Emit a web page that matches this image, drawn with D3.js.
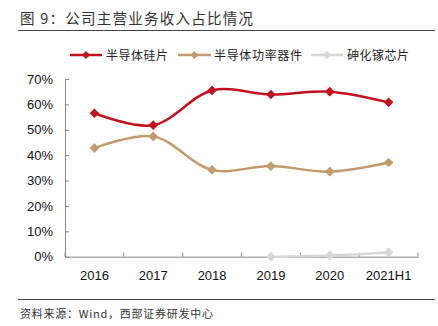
<!DOCTYPE html>
<html><head><meta charset="utf-8">
<script src="https://cdn.jsdelivr.net/npm/d3@7"></script>
<style>body{margin:0;background:#fff}svg{display:block}</style>
</head><body>
<svg id="c" width="438" height="326"></svg>
<script>
const categories = ["2016","2017","2018","2019","2020","2021H1"];
const seriesNames = ["半导体硅片","半导体功率器件","砷化镓芯片"];
const siliconWafer = [56.5, 51.8, 65.5, 63.9, 65.0, 60.8];
const powerDevices = [42.8, 47.4, 34.2, 35.7, 33.5, 37.1];
const gaas = [null, null, null, 0.0, 0.5, 1.7];
const yTicks = [0,10,20,30,40,50,60,70];
const colors = ["#C3121F","#C19B6C","#D7D7D7"];

(function(){
const svg = d3.select("#c");
const pL = 65, pR = 418, pT = 79, pB = 256.7;
const x = d3.scaleBand().domain(categories).range([pL, pR]);
const y = d3.scaleLinear().domain([0,70]).range([pB, pT]);

// title
svg.append("text").attr("x",20).attr("y",24).attr("font-family","Noto Sans CJK SC").attr("font-size",14.5)
  .attr("fill","#333").attr("textLength",233).attr("lengthAdjust","spacing").text("图 9：公司主营业务收入占比情况");
svg.append("line").attr("x1",18).attr("x2",435).attr("y1",30.5).attr("y2",30.5).attr("stroke","#444").attr("stroke-width",1);
svg.append("line").attr("x1",18).attr("x2",435).attr("y1",299.5).attr("y2",299.5).attr("stroke","#444").attr("stroke-width",1);
svg.append("text").attr("x",20).attr("y",318).attr("font-family","Noto Sans CJK SC").attr("font-size",11)
  .attr("fill","#333").attr("textLength",193).attr("lengthAdjust","spacing").text("资料来源：Wind，西部证券研发中心");

// axes
const yAxis = d3.axisLeft(y).tickValues(yTicks).tickFormat(d=>d+"%").tickSizeInner(-4).tickSizeOuter(0).tickPadding(12);
const gy = svg.append("g").attr("transform",`translate(${pL},0)`).call(yAxis);
gy.select(".domain").attr("stroke","#888");
gy.selectAll(".tick line").attr("stroke","#888");
gy.selectAll(".tick text").attr("font-family","Liberation Sans, Arial").attr("font-size",13).attr("fill","#111");

const xAxis = d3.axisBottom(x).tickSize(0).tickPadding(14);
const gx = svg.append("g").attr("transform",`translate(0,${pB})`).call(xAxis);
gx.select(".domain").attr("stroke","#888");
gx.selectAll(".tick text").attr("font-family","Liberation Sans, Arial").attr("font-size",13).attr("fill","#111");
const bounds = categories.map(c=>x(c)).concat([x(categories[categories.length-1])+x.bandwidth()]);
gx.selectAll(".bt").data(bounds).enter().append("line").attr("class","bt")
  .attr("x1",d=>d).attr("x2",d=>d).attr("y1",0).attr("y2",-4).attr("stroke","#888");

const cx = c => x(c) + x.bandwidth()/2;
const line = d3.line().x(d=>cx(d.c)).y(d=>y(d.v)).curve(d3.curveCatmullRom.alpha(0.5));
const diamond = d3.symbol().type(d3.symbolDiamond2).size(60);

[siliconWafer, powerDevices, gaas].forEach((vals,i)=>{
  const data = categories.map((c,j)=>({c, v: vals[j]})).filter(d=>d.v!=null);
  const g = svg.append("g");
  g.append("path").attr("d", line(data)).attr("fill","none").attr("stroke",colors[i]).attr("stroke-width",2.5);
  g.selectAll("path.m").data(data).enter().append("path").attr("class","m")
    .attr("d",diamond).attr("transform",d=>`translate(${cx(d.c)},${y(d.v)})`).attr("fill",colors[i]);
});

// legend
const legendItems = [{x1:70,x2:102,tx:106,tl:62},{x1:178,x2:211,tx:214,tl:88},{x1:311,x2:343,tx:347,tl:62}];
legendItems.forEach((L,i)=>{
  const ly = 55;
  svg.append("line").attr("x1",L.x1).attr("x2",L.x2).attr("y1",ly).attr("y2",ly).attr("stroke",colors[i]).attr("stroke-width",2.5);
  svg.append("path").attr("d",d3.symbol().type(d3.symbolDiamond2).size(40)).attr("transform",`translate(${(L.x1+L.x2)/2},${ly})`).attr("fill",colors[i]);
  svg.append("text").attr("x",L.tx).attr("y",ly+4.5).attr("font-family","Noto Sans CJK SC").attr("font-size",12)
    .attr("fill","#222").attr("textLength",L.tl).attr("lengthAdjust","spacing").text(seriesNames[i]);
});
})();
</script>
</body></html>
